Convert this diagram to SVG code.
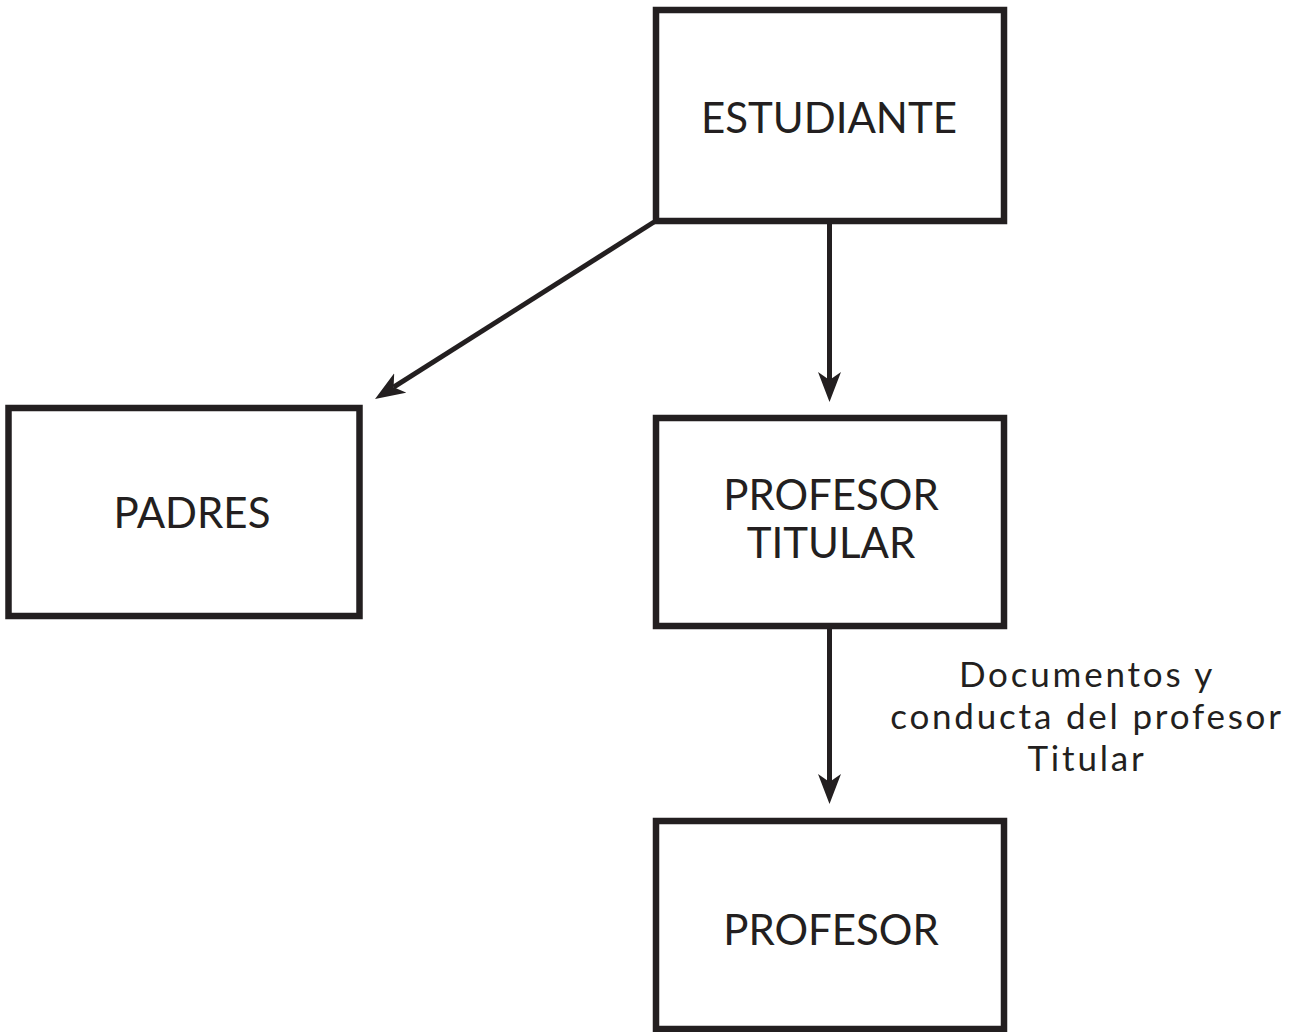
<svg xmlns="http://www.w3.org/2000/svg" width="1301" height="1032" viewBox="0 0 1301 1032">
<defs>
<style>
.box{fill:#fff;stroke:#231f20;stroke-width:6.5}
.lbl{font-family:Lato,"Open Sans","Liberation Sans",sans-serif;font-size:42px;fill:#231f20;text-anchor:middle}
.elbl{font-family:Lato,"Open Sans","Liberation Sans",sans-serif;font-size:35px;letter-spacing:2.8px;fill:#231f20;text-anchor:middle}
.edge{stroke:#231f20;stroke-width:5;fill:none}
</style>
<marker id="ah" viewBox="0 -12 30 24" refX="8" refY="0" markerWidth="30" markerHeight="24" markerUnits="userSpaceOnUse" orient="auto">
<path d="M0,-11.5 L30,0 L0,11.5 L8,0 Z" fill="#231f20"/>
</marker>
</defs>
<rect width="1301" height="1032" fill="#fff"/>
<g id="connectors">
<line class="edge" x1="654" y1="222" x2="393.6" y2="387.2" marker-end="url(#ah)"/>
<line class="edge" x1="829.5" y1="224" x2="829.5" y2="380" marker-end="url(#ah)"/>
<line class="edge" x1="829.5" y1="627" x2="829.5" y2="782" marker-end="url(#ah)"/>
<text class="elbl" x="1087" y="687">Documentos y</text>
<text class="elbl" x="1087" y="729">conducta del profesor</text>
<text class="elbl" x="1087" y="771">Titular</text>
</g>
<g id="estudiante">
<rect class="box" x="656" y="10" width="348" height="211"/>
<text class="lbl" x="829" y="133">ESTUDIANTE</text>
</g>
<g id="padres">
<rect class="box" x="8.5" y="408" width="351" height="208"/>
<text class="lbl" x="192" y="528">PADRES</text>
</g>
<g id="profesor-titular">
<rect class="box" x="656" y="418" width="348" height="208"/>
<text class="lbl" x="831" y="510">PROFESOR</text>
<text class="lbl" x="831" y="558">TITULAR</text>
</g>
<g id="profesor">
<rect class="box" x="656" y="821" width="348" height="208"/>
<text class="lbl" x="831" y="945">PROFESOR</text>
</g>
</svg>
